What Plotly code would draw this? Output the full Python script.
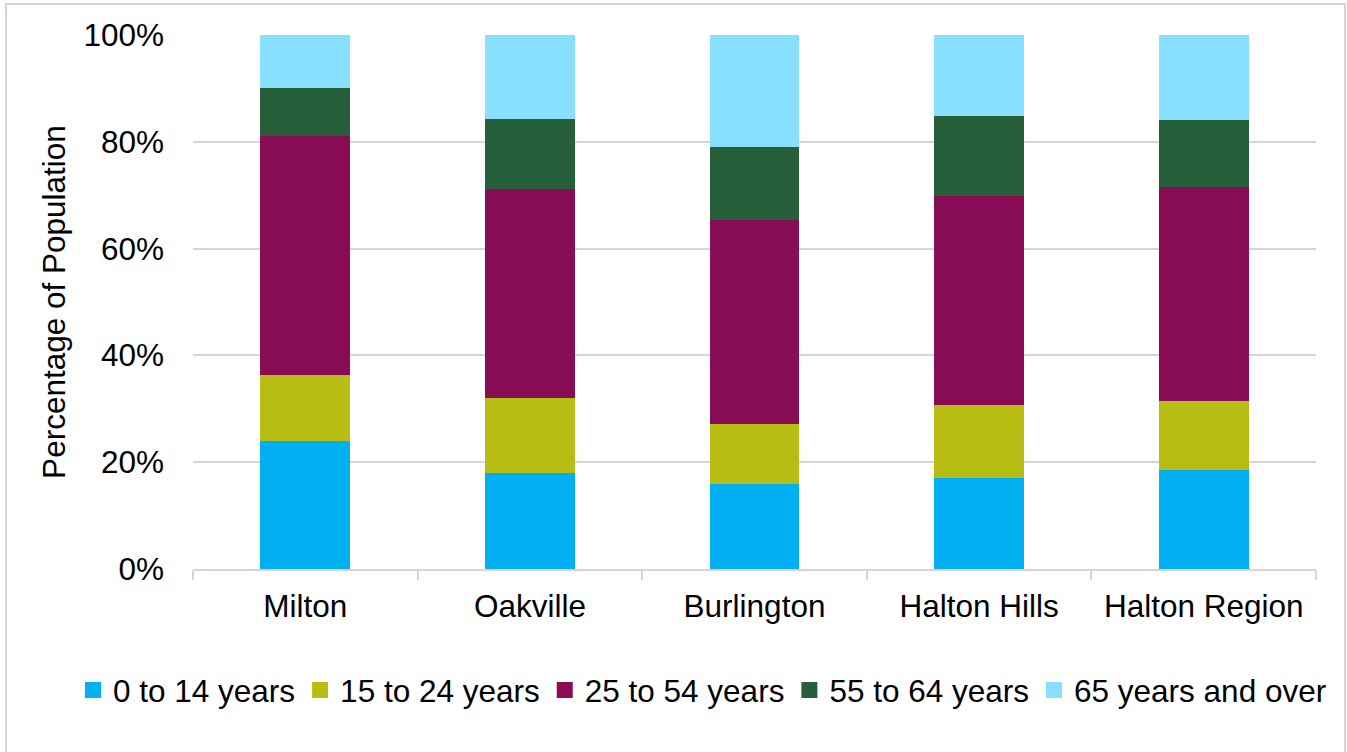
import plotly.graph_objects as go

# Age distribution of population by municipality (percent)
municipalities = ["Milton", "Oakville", "Burlington", "Halton Hills", "Halton Region"]
age_groups = ["0 to 14 years", "15 to 24 years", "25 to 54 years", "55 to 64 years", "65 years and over"]

age_0_14 = [24.0, 18.0, 15.9, 17.0, 18.5]
age_15_24 = [12.3, 14.0, 11.3, 13.7, 13.0]
age_25_54 = [44.8, 39.2, 38.2, 39.2, 40.0]
age_55_64 = [9.0, 13.1, 13.6, 14.9, 12.6]
age_65_plus = [9.9, 15.7, 21.0, 15.2, 15.9]

series = [age_0_14, age_15_24, age_25_54, age_55_64, age_65_plus]
colors = ["#00B0F0", "#B7BD12", "#880D55", "#275F3B", "#87E0FF"]

FONT = "Liberation Sans, Arial, sans-serif"
FS = 31.5

fig = go.Figure()
for name, vals, col in zip(age_groups, series, colors):
    fig.add_trace(go.Bar(
        x=municipalities,
        y=vals,
        name=name,
        legendgroup=name,
        showlegend=False,
        marker=dict(color=col, line=dict(width=0)),
    ))

# legend entries with larger square swatches
for name, col in zip(age_groups, colors):
    fig.add_trace(go.Scatter(
        x=[None], y=[None],
        mode="markers",
        name=name,
        legendgroup=name,
        marker=dict(symbol="square", size=16, color=col),
        hoverinfo="skip",
    ))

W, H = 1347, 752
ml, mr, mt, mb = 193, 31, 35, 183
pw, ph = W - ml - mr, H - mt - mb

# pixel -> paper coordinate helpers
def px_x(p):
    return (p - ml) / pw

def px_y(p):
    return (H - mb - p) / ph

# outer frame around the whole chart
fig.add_shape(
    type="rect", xref="paper", yref="paper",
    x0=px_x(6), x1=px_x(1345), y0=px_y(770), y1=px_y(4),
    line=dict(color="#DCD2D2", width=2), fillcolor="rgba(0,0,0,0)", layer="below",
)

fig.update_layout(
    width=W, height=H,
    barmode="stack",
    bargap=0.6,
    plot_bgcolor="white",
    paper_bgcolor="white",
    margin=dict(l=ml, r=mr, t=mt, b=mb),
    font=dict(family=FONT, size=FS, color="#000000"),
    showlegend=True,
    legend=dict(
        orientation="h",
        x=px_x(73), xanchor="left",
        y=px_y(690), yanchor="middle",
        font=dict(family=FONT, size=FS),
        traceorder="normal",
        itemwidth=30,
        itemsizing="trace",
        tracegroupgap=0,
    ),
    xaxis=dict(
        showgrid=False,
        showline=True, linecolor="#DCD2D2", linewidth=2,
        ticks="outside", tickson="boundaries", ticklen=9, tickcolor="#DCD2D2", tickwidth=2,
        ticklabelstandoff=8,
        tickfont=dict(family=FONT, size=FS),
    ),
    yaxis=dict(
        range=[0, 100],
        tickvals=[0, 20, 40, 60, 80, 100],
        ticktext=["0%", "20%", "40%", "60%", "80%", "100%"],
        showgrid=True, gridcolor="#DCD2D2", gridwidth=2,
        zeroline=False, showline=False,
        ticks="", ticklabelstandoff=28,
        tickfont=dict(family=FONT, size=FS),
        title=dict(text="Percentage of Population", font=dict(family=FONT, size=FS), standoff=8),
    ),
)

fig.write_html("out.html")
